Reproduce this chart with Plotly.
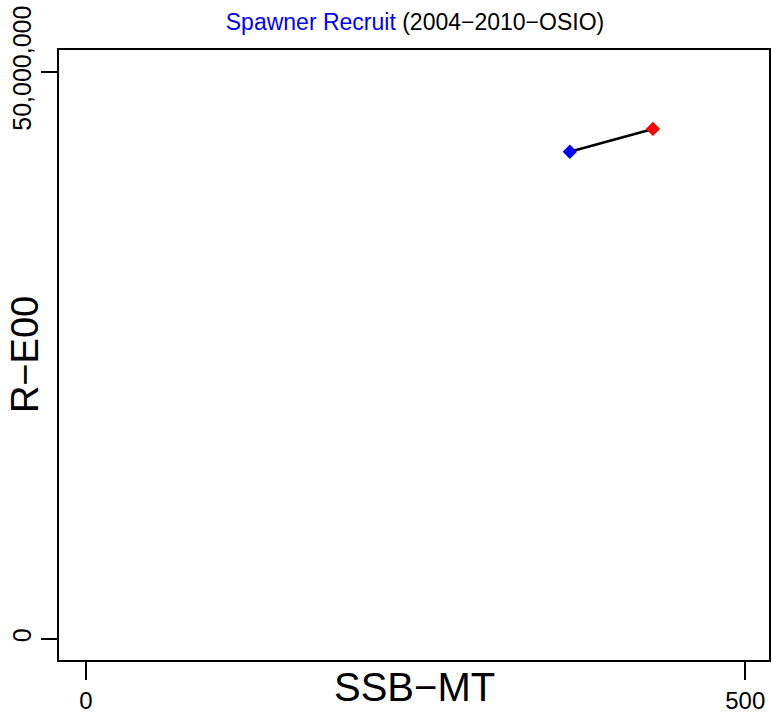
import plotly.graph_objects as go

# spawner-recruit pairs
ssb = [367, 430]
recruits = [42960000, 44970000]
point_colors = ['blue', 'red']

x_ticks = [0, 500]
y_ticks = [0, 50000000]
y_ticktext = ['0', '50,000,000']

fig = go.Figure()
fig.add_trace(go.Scatter(
    x=ssb, y=recruits, mode='lines+markers',
    line=dict(color='black', width=2.5),
    marker=dict(symbol='diamond', size=11, color=point_colors, line=dict(width=0)),
    showlegend=False))

font = 'Liberation Sans, Arial, sans-serif'
fig.update_layout(
    width=772, height=715,
    margin=dict(l=59, r=1, t=50, b=52),
    plot_bgcolor='white', paper_bgcolor='white',
    font=dict(family=font, color='black'),
    title=dict(
        text="<span style='color:blue'>Spawner Recruit</span> (2004\u22122010\u2212OSIO)",
        x=415 / 772, xanchor='center', xref='container',
        y=1 - 22 / 715, yanchor='middle', yref='container',
        font=dict(size=23, color='black')),
)
fig.update_xaxes(
    range=[-20.4, 518], tickvals=x_ticks, ticktext=[str(v) for v in x_ticks],
    ticks='outside', ticklen=18, tickwidth=2, tickcolor='black',
    tickfont=dict(size=24), showgrid=False, zeroline=False,
    showline=True, linewidth=2, linecolor='black', mirror=True)
fig.update_yaxes(
    range=[-1.84e6, 51.93e6], tickvals=y_ticks, ticktext=y_ticktext,
    tickangle=-90,
    ticks='outside', ticklen=16, tickwidth=2, tickcolor='black',
    tickfont=dict(size=25), showgrid=False, zeroline=False,
    showline=True, linewidth=2, linecolor='black', mirror=True)

# axis titles as annotations to place them like the original
fig.add_annotation(text='SSB\u2212MT', xref='paper', yref='paper',
                   x=0.5, y=-27 / 613, xanchor='center', yanchor='middle',
                   showarrow=False, font=dict(size=40))
fig.add_annotation(text='R\u2212E00', xref='paper', yref='paper',
                   x=-34 / 712, y=0.5, xanchor='center', yanchor='middle',
                   textangle=-90, showarrow=False, font=dict(size=38))

# drop the page margin so the figure sits at the window corner
fig.write_html("out.html", config={'displayModeBar': False},
               post_script="document.body.style.margin='0';")
